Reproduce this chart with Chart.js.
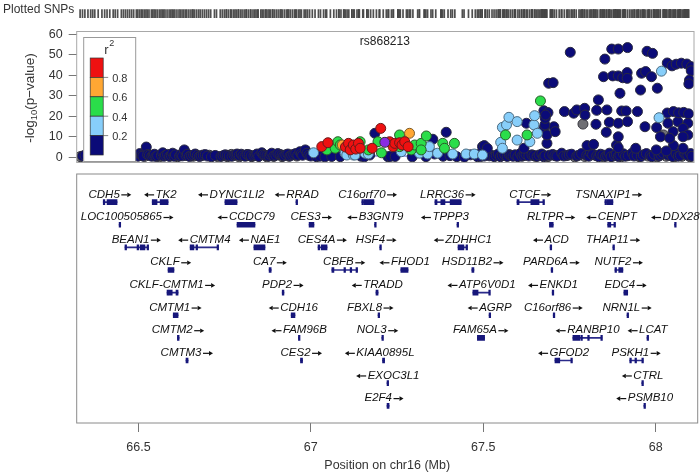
<!DOCTYPE html>
<html>
<head>
<meta charset="utf-8">
<script src="https://cdn.jsdelivr.net/npm/chart.js@4.4.1/dist/chart.umd.min.js"></script>
<style>
  body { margin: 0; background: #fff; }
  #wrap { position: relative; width: 700px; height: 475px; }
  #wrap canvas { position: absolute; left: 0; top: 0; }
</style>
</head>
<body>
<div id="wrap">
  <canvas id="rugChart" width="700" height="475"></canvas>
  <canvas id="assocChart" width="700" height="475"></canvas>
  <canvas id="geneChart" width="700" height="475"></canvas>
</div>
<script>
// region shown, in Mb on chr16
const xMin = 66.321, xMax = 68.122;
const xTicks = [66.5, 67, 67.5, 68];
const yTicks = [0, 10, 20, 30, 40, 50, 60];

// r2 bins (low -> high)
const r2Breaks = [0.2, 0.4, 0.6, 0.8];
const r2Colors = ['#0b0b78', '#87cefa', '#2add4a', '#ffa733', '#ee1111'];

const indexSnpName = 'rs868213';
// [position Mb, -log10 p]
const indexSnp = [[67.220, 7.3]];

const redSnps = [[67.036,5.2],[67.054,7.1],[67.105,5.0],[67.114,6.8],[67.119,3.6],[67.128,6.0],[67.135,4.0],
  [67.143,6.8],[67.148,4.4],[67.183,4.4],[67.208,14.1],[67.234,7.6],[67.244,5.2],[67.249,6.8],[67.263,7.1],
  [67.270,6.0],[67.278,7.6],[67.288,5.2]];

const orangeSnps = [[67.096,6.0],[67.292,11.7]];

const greenSnps = [[67.051,3.6],[67.075,4.4],[67.083,7.6],[67.090,6.0],[67.148,7.6],[67.172,3.6],[67.200,7.6],
  [67.210,2.2],[67.263,10.9],[67.263,5.2],[67.297,3.6],[67.307,6.0],[67.326,6.8],[67.341,10.4],[67.326,3.6],
  [67.389,6.8],[67.423,6.8],[67.394,4.4],[67.572,10.9],[67.635,10.9],[67.674,27.5]];

const skySnps = [[67.012,2.2],[67.104,2.0],[67.109,1.1],[67.128,1.1],[67.133,1.1],[67.162,2.0],[67.172,1.6],
  [67.268,2.7],[67.321,2.0],[67.345,1.6],[67.350,5.2],[67.374,2.0],[67.418,1.6],[67.457,1.6],[67.481,1.6],
  [67.505,1.1],[67.558,7.3],[67.563,4.4],[67.563,14.6],[67.575,15.8],[67.582,19.5],[67.606,17.4],[67.606,8.4],
  [67.643,7.6],[67.655,15.8],[67.657,20.3],[67.665,11.7],[68.020,19.3],[68.027,42.0]];

const navySnps = [
  // left, mostly near zero
  [66.338,0.6],[66.345,1.0],[66.354,0.8],[66.362,0.4],[66.368,0.9],[66.374,1.2],[66.384,0.3],[66.395,0.5],
  [66.403,1.0],[66.410,0.6],[66.418,1.4],[66.428,0.9],[66.434,0.3],[66.441,0.7],[66.452,1.2],[66.458,0.5],
  [66.464,1.1],[66.470,0.8],[66.476,1.5],[66.482,0.4],[66.488,0.9],
  [66.496,1.0],[66.500,0.5],[66.505,1.8],[66.510,1.1],[66.514,0.6],[66.524,5.0],[66.528,1.3],[66.533,0.9],
  [66.540,0.5],[66.544,1.1],[66.548,1.5],[66.552,0.4],[66.557,0.8],[66.568,1.0],[66.572,2.2],[66.576,0.5],
  [66.580,1.0],[66.586,1.4],[66.592,0.4],[66.597,0.9],[66.601,2.0],[66.605,0.5],[66.609,1.2],[66.621,0.6],
  [66.625,1.3],[66.630,0.7],[66.635,3.6],[66.640,0.9],[66.644,1.5],[66.650,0.4],[66.656,0.8],[66.662,1.1],
  [66.667,1.6],[66.673,0.9],[66.679,0.4],[66.684,0.7],[66.690,1.1],[66.696,1.3],[66.702,0.6],[66.714,0.2],
  [66.725,0.9],[66.742,0.4],[66.748,0.8],[66.754,1.2],[66.760,1.0],[66.766,0.6],[66.774,0.5],[66.780,1.0],
  [66.785,1.2],[66.789,1.6],[66.795,0.9],[66.801,1.5],[66.806,0.8],[66.812,0.5],[66.818,1.4],[66.824,1.2],
  [66.830,0.6],[66.838,0.8],[66.843,1.1],[66.847,1.6],[66.852,0.4],[66.861,2.2],[66.865,1.3],[66.870,1.0],
  [66.876,0.8],[66.882,0.6],[66.886,1.4],[66.890,2.0],[66.896,0.7],[66.902,1.0],[66.908,1.8],[66.914,1.4],
  [66.920,1.0],[66.925,0.7],[66.931,1.2],[66.937,1.6],[66.943,0.6],[66.948,1.1],[66.954,1.4],[66.960,1.8],
  [66.966,1.0],[66.972,2.7],[66.976,1.6],[66.980,1.0],[66.988,3.6],[66.993,2.0],[66.998,1.0],[67.004,0.6],
  // middle
  [67.020,0.3],[67.030,0.5],[67.045,0.2],[67.065,0.4],[67.090,0.3],[67.150,0.5],[67.160,0.2],[67.176,1.1],
  [67.191,11.7],[67.229,0.3],[67.236,0.4],[67.250,0.4],[67.300,0.2],[67.340,0.3],[67.360,8.8],[67.365,1.6],
  [67.390,0.5],[67.399,12.2],[67.410,0.8],[67.430,0.3],[67.452,0.1],[67.470,1.2],[67.490,0.3],
  // right, near zero
  [67.496,1.5],[67.500,0.4],[67.510,0.6],[67.519,2.0],[67.525,0.7],[67.531,1.0],[67.539,0.3],[67.545,0.9],
  [67.551,1.6],[67.557,0.3],[67.563,0.8],[67.570,1.1],[67.577,0.4],[67.583,1.3],[67.588,0.9],[67.594,0.5],
  [67.600,1.2],[67.608,0.3],[67.615,1.8],[67.620,0.5],[67.626,0.8],[67.632,1.4],[67.640,0.6],[67.649,1.2],
  [67.655,0.9],[67.664,0.4],[67.670,1.1],[67.678,1.6],[67.683,0.3],[67.687,0.7],[67.700,1.0],[67.710,1.4],
  [67.716,0.8],[67.722,0.5],[67.736,2.0],[67.742,0.6],[67.751,0.8],[67.758,1.2],[67.765,1.5],[67.780,0.6],
  [67.786,1.0],[67.794,1.8],[67.809,0.9],[67.815,0.5],[67.820,2.2],[67.826,1.3],[67.838,0.7],[67.844,0.3],
  [67.849,1.5],[67.856,1.1],[67.864,0.5],[67.870,0.8],[67.875,2.0],[67.880,0.3],[67.890,1.0],[67.895,1.5],
  [67.901,0.4],[67.906,0.9],[67.916,1.7],[67.922,0.5],[67.930,0.8],[67.942,2.1],[67.947,0.6],[67.956,1.0],
  [67.968,0.4],[67.974,1.2],[67.983,1.8],[67.994,0.9],[67.999,0.3],[68.006,1.5],[68.020,0.6],[68.026,1.2],
  [68.032,2.0],[68.047,1.0],[68.052,1.6],[68.059,0.4],[68.070,1.7],[68.076,0.5],[68.082,0.9],[68.093,2.2],
  [68.098,1.4],[68.104,1.0],[68.112,1.8],[68.116,0.5],
  // right, low
  [67.693,6.8],[67.810,5.7],[67.829,6.3],[67.896,6.0],[67.901,4.7],[67.952,4.4],[68.062,5.7],[68.090,4.4],
  [68.012,3.6],[68.041,3.1],[67.505,5.2],[67.510,5.7],[67.519,4.4],[67.626,4.4],
  // right, 10-20
  [67.836,16.1],[67.875,17.1],[67.901,16.6],[67.928,17.4],[67.866,12.2],[67.901,10.0],[67.979,14.9],
  [68.013,14.5],[68.024,10.0],[68.046,16.6],[68.075,17.4],[68.104,16.6],[68.061,12.5],[68.090,14.1],
  [68.104,10.9],[68.090,10.0],[68.051,9.3],[67.684,14.1],[67.693,10.9],[67.713,14.9],[67.717,12.5],
  [67.687,15.8],[67.633,16.6],[67.688,19.0],
  // right, 20-25
  [67.744,22.3],[67.771,21.5],[67.780,23.1],[67.803,23.9],[67.804,20.6],[67.838,22.9],[67.868,23.1],
  [67.911,22.6],[67.924,22.6],[67.957,22.3],[68.044,21.6],[68.062,22.3],[68.077,21.7],[68.092,21.9],
  [68.106,21.2],[67.684,22.7],[67.696,21.8],[67.689,20.6],
  // right, high
  [67.761,51.2],[67.862,47.9],[67.882,52.8],[67.901,52.8],[67.928,53.5],[67.985,51.7],[68.001,50.7],
  [68.044,46.0],[68.058,44.6],[68.070,45.4],[68.085,45.9],[68.101,45.5],[68.114,44.2],[68.114,42.2],
  [67.858,39.3],[67.885,39.7],[67.901,39.7],[67.914,38.8],[67.927,41.3],[67.927,38.5],[67.969,41.0],
  [67.981,41.8],[67.998,39.3],[68.109,37.7],[68.107,35.8],[67.906,31.2],[67.966,32.8],[68.015,33.7],
  [67.843,28.0],[67.698,36.1],[67.711,36.4]
];

// no LD information
const graySnps = [[66.331,0.3],[66.519,0.4],[66.563,0.2],[66.615,0.3],[66.661,0.5],[66.708,1.0],[66.731,0.4],
  [66.760,0.3],[66.772,1.4],[66.795,0.2],[66.818,0.7],[66.832,0.3],[66.853,0.5],[66.876,0.2],[66.896,0.4],
  [66.920,0.3],[66.940,0.5],[66.963,0.6],[67.658,0.5],[67.696,0.3],[67.728,1.0],[67.774,0.2],[67.798,16.2],
  [67.803,0.4],[67.832,1.1],[67.858,0.2],[67.884,0.5],[67.910,0.3],[67.936,1.2],[67.962,0.3],[67.988,0.6],
  [68.014,0.2],[68.033,10.9],[68.041,0.5],[68.064,0.2],[68.087,0.5],[68.110,0.3]];

// recombination rate (cM/Mb)
const recombPos  = [66.33, 66.60, 66.90, 67.00, 67.05, 67.30, 67.45, 67.55, 67.80, 68.12];
const recombRate = [0.5, 0.3, 0.4, 0.6, 1.2, 1.0, 0.9, 0.4, 0.5, 0.3];

// genes: [name, start Mb, end Mb, strand, row, label centre Mb or null]
const genes = [
  ['CDH5', 66.398, 66.438, '+', 1, null], ['TK2', 66.540, 66.586, '-', 1, null],
  ['DYNC1LI2', 66.751, 66.786, '-', 1, null], ['RRAD', 66.957, 66.960, '-', 1, null],
  ['C16orf70', 67.148, 67.183, '+', 1, null], ['LRRC36', 67.360, 67.436, '+', 1, null],
  ['CTCF', 67.598, 67.676, '+', 1, null], ['TSNAXIP1', 67.853, 67.876, '+', 1, null],
  ['LOC100505865', 66.444, 66.447, '+', 2, 66.468], ['CCDC79', 66.786, 66.838, '-', 2, null],
  ['CES3', 66.995, 67.009, '+', 2, null], ['B3GNT9', 67.185, 67.188, '-', 2, null],
  ['TPPP3', 67.424, 67.427, '-', 2, 67.388], ['RLTPR', 67.692, 67.703, '+', 2, null],
  ['CENPT', 67.861, 67.882, '-', 2, null], ['DDX28', 68.055, 68.058, '-', 2, null],
  ['BEAN1', 66.461, 66.528, '+', 3, null], ['CMTM4', 66.650, 66.731, '-', 3, null],
  ['NAE1', 66.835, 66.867, '-', 3, null], ['CES4A', 67.021, 67.047, '+', 3, null],
  ['HSF4', 67.200, 67.203, '+', 3, 67.190], ['ZDHHC1', 67.427, 67.453, '-', 3, null],
  ['ACD', 67.694, 67.697, '-', 3, null], ['THAP11', 67.876, 67.879, '+', 3, null],
  ['CKLF', 66.586, 66.603, '+', 4, null], ['CA7', 66.879, 66.885, '+', 4, null],
  ['CBFB', 67.061, 67.134, '+', 4, null], ['FHOD1', 67.261, 67.282, '-', 4, null],
  ['HSD11B2', 67.467, 67.473, '+', 4, null], ['PARD6A', 67.697, 67.700, '+', 4, null],
  ['NUTF2', 67.882, 67.905, '+', 4, null],
  ['CKLF-CMTM1', 66.583, 66.615, '+', 5, null], ['PDP2', 66.917, 66.922, '+', 5, null],
  ['TRADD', 67.189, 67.195, '-', 5, null], ['ATP6V0D1', 67.470, 67.519, '-', 5, null],
  ['ENKD1', 67.700, 67.703, '-', 5, null], ['EDC4', 67.908, 67.919, '+', 5, null],
  ['CMTM1', 66.601, 66.615, '+', 6, null], ['CDH16', 66.943, 66.954, '-', 6, null],
  ['FBXL8', 67.195, 67.198, '+', 6, 67.173], ['AGRP', 67.517, 67.519, '-', 6, null],
  ['C16orf86', 67.703, 67.705, '+', 6, null], ['NRN1L', 67.917, 67.919, '+', 6, null],
  ['CMTM2', 66.613, 66.618, '+', 7, null], ['FAM96B', 66.964, 66.967, '-', 7, null],
  ['NOL3', 67.206, 67.209, '+', 7, 67.194], ['FAM65A', 67.483, 67.504, '+', 7, null],
  ['RANBP10', 67.760, 67.844, '-', 7, null], ['LCAT', 67.975, 67.977, '-', 7, null],
  ['CMTM3', 66.638, 66.644, '+', 8, null], ['CES2', 66.970, 66.976, '+', 8, null],
  ['KIAA0895L', 67.208, 67.214, '-', 8, 67.199], ['GFOD2', 67.708, 67.757, '-', 8, null],
  ['PSKH1', 67.925, 67.963, '+', 8, null],
  ['EXOC3L1', 67.221, 67.224, '-', 9, null], ['CTRL', 67.960, 67.963, '-', 9, null],
  ['E2F4', 67.221, 67.227, '+', 10, 67.213], ['PSMB10', 67.966, 67.969, '-', 10, null]
];

// exon blocks for genes with introns: [name, start, end]
const exonBlocks = [
  ['CDH5', 66.398, 66.402], ['CDH5', 66.409, 66.438],
  ['TK2', 66.540, 66.554], ['TK2', 66.563, 66.586],
  ['C16orf70', 67.148, 67.151], ['C16orf70', 67.154, 67.183],
  ['LRRC36', 67.360, 67.366], ['LRRC36', 67.377, 67.389], ['LRRC36', 67.404, 67.436],
  ['CTCF', 67.598, 67.604], ['CTCF', 67.638, 67.662], ['CTCF', 67.673, 67.676],
  ['TSNAXIP1', 67.853, 67.856], ['TSNAXIP1', 67.859, 67.876],
  ['CENPT', 67.861, 67.870], ['CENPT', 67.879, 67.882],
  ['BEAN1', 66.461, 66.464], ['BEAN1', 66.496, 66.499], ['BEAN1', 66.505, 66.519], ['BEAN1', 66.525, 66.528],
  ['CMTM4', 66.650, 66.661], ['CMTM4', 66.667, 66.670], ['CMTM4', 66.728, 66.731],
  ['CES4A', 67.021, 67.024], ['CES4A', 67.030, 67.047],
  ['ZDHHC1', 67.427, 67.444], ['ZDHHC1', 67.450, 67.453],
  ['CBFB', 67.061, 67.067], ['CBFB', 67.096, 67.099], ['CBFB', 67.114, 67.117], ['CBFB', 67.131, 67.134],
  ['NUTF2', 67.882, 67.885], ['NUTF2', 67.893, 67.905],
  ['CKLF-CMTM1', 66.583, 66.586], ['CKLF-CMTM1', 66.589, 66.598], ['CKLF-CMTM1', 66.609, 66.615],
  ['ATP6V0D1', 67.470, 67.485], ['ATP6V0D1', 67.516, 67.519],
  ['RANBP10', 67.760, 67.780], ['RANBP10', 67.783, 67.786], ['RANBP10', 67.803, 67.806], ['RANBP10', 67.841, 67.844],
  ['GFOD2', 67.708, 67.722], ['GFOD2', 67.754, 67.757],
  ['PSKH1', 67.925, 67.928], ['PSKH1', 67.940, 67.943], ['PSKH1', 67.960, 67.963]
];

Chart.defaults.font.family = "'Liberation Sans', Arial, sans-serif";
Chart.defaults.color = '#333';

const toXY = arr => arr.map(p => ({x: p[0], y: p[1]}));
const allSnps = [].concat(indexSnp, redSnps, orangeSnps, greenSnps, skySnps, navySnps, graySnps);

// ---------- top rug: plotted SNP positions ----------
new Chart(document.getElementById('rugChart'), {
  type: 'scatter',
  data: {
    datasets: [{
      data: allSnps.map(p => ({x: p[0], y: 0})),
      pointStyle: 'line', rotation: 90, radius: 7.5,
      borderColor: 'rgba(70,70,70,0.95)', borderWidth: 1.7
    }]
  },
  options: {
    responsive: false, animation: false, devicePixelRatio: 1,
    events: [],
    layout: {padding: {left: 76.7, right: 2.3, top: 2, bottom: 457}},
    plugins: {legend: {display: false}, tooltip: {enabled: false}},
    scales: {
      x: {type: 'linear', min: xMin, max: xMax, display: false},
      y: {min: -1, max: 1, display: false}
    }
  },
  plugins: [{
    id: 'rugLabel',
    afterDraw(chart) {
      const ctx = chart.ctx;
      ctx.save();
      ctx.font = "12px 'Liberation Sans', Arial, sans-serif";
      ctx.fillStyle = '#333';
      ctx.textBaseline = 'middle';
      ctx.fillText('Plotted SNPs', 3, 10);
      ctx.restore();
    }
  }]
});

// ---------- association scatter ----------
function snpSet(arr, fill, border) {
  return {
    data: toXY(arr), backgroundColor: fill, borderColor: border,
    borderWidth: 1, pointRadius: 5, pointHoverRadius: 5, yAxisID: 'y'
  };
}

const assocPanel = {
  id: 'assocPanel',
  afterDatasetsDraw(chart) {
    const ctx = chart.ctx, a = chart.chartArea;
    const xs = chart.scales.x;
    ctx.save();
    // frame
    ctx.strokeStyle = '#a8a8a8';
    ctx.lineWidth = 1;
    ctx.strokeRect(a.left, a.top + 0.5, a.right - a.left, a.bottom - a.top);

    // index SNP name
    ctx.fillStyle = '#222';
    ctx.font = "12px 'Liberation Sans', Arial, sans-serif";
    ctx.textAlign = 'center';
    ctx.textBaseline = 'middle';
    ctx.fillText(indexSnpName, xs.getPixelForValue(indexSnp[0][0]), a.top + 11);

    // r2 legend
    const bx = a.left + 6.5, by = a.top + 6, bw = 52, bh = a.bottom - a.top - 6;
    ctx.fillStyle = '#fff';
    ctx.fillRect(bx, by, bw, bh);
    ctx.strokeStyle = '#999';
    ctx.strokeRect(bx + 0.5, by + 0.5, bw, bh - 1);
    const barX = bx + 7, barW = 13, barTop = by + 21, segH = 19.4;
    for (let i = 0; i < r2Colors.length; i++) {
      const c = r2Colors[r2Colors.length - 1 - i];
      ctx.fillStyle = c;
      ctx.fillRect(barX, barTop + i * segH, barW, segH);
      ctx.strokeStyle = '#333';
      ctx.lineWidth = 0.7;
      ctx.strokeRect(barX, barTop + i * segH, barW, segH);
    }
    ctx.font = "11px 'Liberation Sans', Arial, sans-serif";
    ctx.textAlign = 'left';
    ctx.fillStyle = '#333';
    for (let k = 0; k < r2Breaks.length; k++) {
      const y = barTop + (k + 1) * segH;
      ctx.beginPath();
      ctx.moveTo(barX + barW, y);
      ctx.lineTo(barX + barW + 5, y);
      ctx.strokeStyle = '#555';
      ctx.stroke();
      ctx.fillText(r2Breaks[r2Breaks.length - 1 - k].toFixed(1), barX + barW + 9, y + 1.5);
    }
    ctx.font = "13px 'Liberation Sans', Arial, sans-serif";
    ctx.fillText('r', bx + 21, by + 13);
    ctx.font = "9px 'Liberation Sans', Arial, sans-serif";
    ctx.fillText('2', bx + 26, by + 7);

    // y title: -log10(p-value)
    ctx.translate(30, 98);
    ctx.rotate(-Math.PI / 2);
    ctx.fillStyle = '#333';
    ctx.textBaseline = 'middle';
    const big = "13.5px 'Liberation Sans', Arial, sans-serif";
    const small = "9.5px 'Liberation Sans', Arial, sans-serif";
    ctx.font = big; const w1 = ctx.measureText('-log').width;
    ctx.font = small; const w2 = ctx.measureText('10').width;
    ctx.font = big; const w3 = ctx.measureText('(p\u2212value)').width;
    let tx = -(w1 + w2 + w3) / 2;
    ctx.font = big; ctx.fillText('-log', tx, 0); tx += w1;
    ctx.font = small; ctx.fillText('10', tx, 4); tx += w2;
    ctx.font = big; ctx.fillText('(p\u2212value)', tx, 0);
    ctx.restore();
  }
};

new Chart(document.getElementById('assocChart'), {
  type: 'scatter',
  data: {
    datasets: [
      snpSet(indexSnp, '#8a2be2', '#333'),
      snpSet(redSnps, r2Colors[4], '#6a1a1a'),
      snpSet(orangeSnps, r2Colors[3], '#7a5a2a'),
      snpSet(greenSnps, r2Colors[2], '#2a5a2a'),
      snpSet(skySnps, r2Colors[1], '#4a6a80'),
      snpSet(navySnps, r2Colors[0], '#2a2a40'),
      snpSet(graySnps, '#6f6f74', '#35353d'),
      {
        type: 'line', yAxisID: 'yRec',
        data: recombPos.map((p, i) => ({x: p, y: recombRate[i]})),
        borderColor: '#3a4fd0', borderWidth: 1, pointRadius: 0, tension: 0
      }
    ]
  },
  options: {
    responsive: false, animation: false, devicePixelRatio: 1,
    events: [],
    layout: {padding: {left: 0, right: 2.3, top: 31, bottom: 313}},
    plugins: {legend: {display: false}, tooltip: {enabled: false}},
    scales: {
      x: {type: 'linear', min: xMin, max: xMax, display: false},
      y: {
        type: 'linear', min: -2.3, max: 61.6,
        afterBuildTicks: s => { s.ticks = yTicks.map(v => ({value: v})); },
        afterFit: s => { s.width = 76.7; },
        grid: {drawOnChartArea: false, drawTicks: true, tickLength: 8, color: '#777'},
        border: {display: false},
        ticks: {padding: 6, font: {size: 12.5}, color: '#333', callback: v => String(v)}
      },
      yRec: {type: 'linear', min: -2.3 * 100 / 60, max: 61.6 * 100 / 60, display: false}
    }
  },
  plugins: [assocPanel]
});

// ---------- gene panel ----------
const glyphOffset = 0.26, labelOffset = 0.6;
const geneRow = {};
genes.forEach(g => { geneRow[g[0]] = g[4]; });
const withExons = new Set(exonBlocks.map(e => e[0]));
const exonData = exonBlocks.map(e => ({x: [e[1], e[2]], y: geneRow[e[0]] - glyphOffset}))
  .concat(genes.filter(g => !withExons.has(g[0])).map(g => ({x: [g[1], g[2]], y: g[4] - glyphOffset})));

function drawArrow(ctx, x0, y, dir) {
  // strand arrow: shaft plus filled head, dir = +1 right, -1 left
  const len = 10, head = 4;
  const x1 = x0 + dir * len;
  ctx.beginPath();
  ctx.moveTo(x0, y);
  ctx.lineTo(x1 - dir * head, y);
  ctx.lineWidth = 1.2;
  ctx.stroke();
  ctx.beginPath();
  ctx.moveTo(x1, y);
  ctx.lineTo(x1 - dir * head, y - 2.3);
  ctx.lineTo(x1 - dir * head, y + 2.3);
  ctx.closePath();
  ctx.fill();
}

const genePanel = {
  id: 'genePanel',
  afterDatasetsDraw(chart) {
    const ctx = chart.ctx, a = chart.chartArea;
    const xs = chart.scales.x, ys = chart.scales.y;
    ctx.save();
    ctx.strokeStyle = '#8a8a8a';
    ctx.lineWidth = 1;
    ctx.strokeRect(a.left, a.top, a.right - a.left, a.bottom - a.top);
    ctx.font = "italic 11.5px 'Liberation Sans', Arial, sans-serif";
    ctx.fillStyle = '#111';
    ctx.strokeStyle = '#111';
    ctx.textAlign = 'left';
    ctx.textBaseline = 'middle';
    const arrowW = 12;
    genes.forEach(g => {
      const mid = g[5] != null ? g[5] : (g[1] + g[2]) / 2;
      const cx = xs.getPixelForValue(mid);
      const y = ys.getPixelForValue(g[4] - labelOffset);
      const tw = ctx.measureText(g[0]).width;
      const x0 = cx - (tw + arrowW) / 2;
      if (g[3] === '+') {
        ctx.fillText(g[0], x0, y);
        drawArrow(ctx, x0 + tw + 1.5, y + 0.5, 1);
      } else {
        drawArrow(ctx, x0 + arrowW - 1.5, y + 0.5, -1);
        ctx.fillText(g[0], x0 + arrowW, y);
      }
    });
    ctx.restore();
  }
};

new Chart(document.getElementById('geneChart'), {
  type: 'bar',
  data: {
    datasets: [
      {
        data: exonData, backgroundColor: '#16167a', borderWidth: 0,
        barThickness: 5, minBarLength: 1.6, grouped: false
      },
      {
        data: genes.map(g => ({x: [g[1], g[2]], y: g[4] - glyphOffset})),
        backgroundColor: '#2a2a8a', borderWidth: 0,
        barThickness: 1, minBarLength: 1, grouped: false
      }
    ]
  },
  options: {
    indexAxis: 'y',
    responsive: false, animation: false, devicePixelRatio: 1,
    events: [],
    layout: {padding: {left: 76.7, right: 2.3, top: 174, bottom: 0}},
    plugins: {legend: {display: false}, tooltip: {enabled: false}},
    scales: {
      x: {
        type: 'linear', min: xMin, max: xMax,
        afterBuildTicks: s => { s.ticks = xTicks.map(v => ({value: v})); },
        afterFit: s => { s.height = 52; },
        grid: {drawOnChartArea: false, drawTicks: true, tickLength: 9, color: '#777'},
        border: {display: false},
        ticks: {padding: 8, font: {size: 12.5}, color: '#333', maxRotation: 0, callback: v => String(v)},
        title: {display: true, text: 'Position on chr16 (Mb)', font: {size: 12.5}, color: '#333',
                padding: {top: 0, bottom: 2}}
      },
      y: {type: 'linear', min: 0, max: 10, reverse: true, display: false}
    }
  },
  plugins: [genePanel]
});
</script>
</body>
</html>
